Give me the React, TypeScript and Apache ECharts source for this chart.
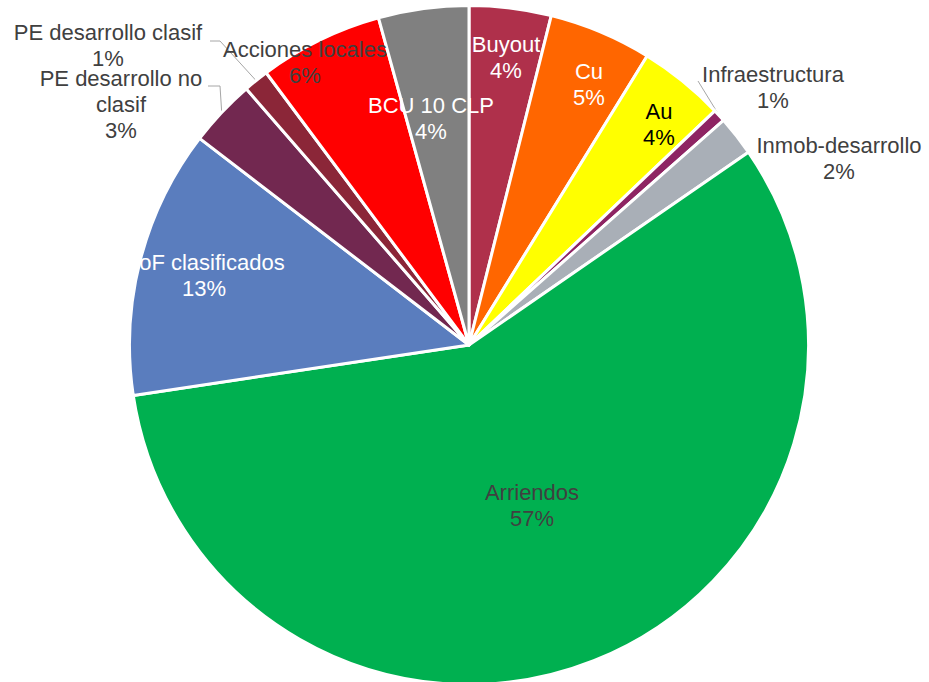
import React, { useEffect, useRef } from "react";
import * as echarts from "echarts";

// ---- data ----
const categories = [
  "Buyout",
  "Cu",
  "Au",
  "Infraestructura",
  "Inmob-desarrollo",
  "Arriendos",
  "DoF clasificados",
  "PE desarrollo no clasif",
  "PE desarrollo clasif",
  "Acciones locales",
  "BCU 10 CLP",
];
const values = [3.9, 4.9, 4.1, 0.6, 1.9, 57.3, 12.8, 3.2, 1.2, 5.9, 4.3];

// ---- styles ----
const sliceColors = [
  "#AF304B",
  "#FF6600",
  "#FFFF00",
  "#8E2463",
  "#A9AFB7",
  "#00B050",
  "#5A7DBE",
  "#722850",
  "#8B2638",
  "#FF0000",
  "#808080",
];
const labelColors = [
  "#FFFFFF",
  "#FFFFFF",
  "#000000",
  "#404040",
  "#404040",
  "#404040",
  "#FFFFFF",
  "#404040",
  "#404040",
  "#404040",
  "#FFFFFF",
];
const outsideLabel = [false, false, false, true, true, false, false, true, true, false, false];
const showLeader = [false, false, false, true, false, false, false, true, true, false, false];
const wrapped: Record<string, string> = {
  "PE desarrollo no clasif": "PE desarrollo no\nclasif",
};

// ---- layout (label centres, leader elbows) ----
const labelPos: [number, number][] = [
  [506, 57],
  [589, 84],
  [659, 124],
  [773, 87],
  [839, 158],
  [532, 505],
  [204, 275],
  [121, 104],
  [108, 45],
  [305, 62],
  [431, 118],
];
const leaderPts: Record<number, [number, number][]> = {
  3: [
    [698, 81],
    [698, 81],
  ],
  7: [
    [220, 86],
    [208, 86],
  ],
  8: [
    [220, 41],
    [210, 41],
  ],
};

export default function App() {
  const ref = useRef<HTMLDivElement>(null);

  useEffect(() => {
    if (!ref.current) return;
    const chart = echarts.init(ref.current, undefined, { renderer: "svg" });

    const data = categories.map((name, i) => ({
      name,
      value: values[i],
      itemStyle: { color: sliceColors[i] },
      label: {
        position: outsideLabel[i] ? "outside" : "inside",
        color: labelColors[i],
      },
      labelLine: {
        show: showLeader[i],
        lineStyle: { color: "#A6A6A6", width: 1 },
      },
    }));

    chart.setOption({
      animation: false,
      backgroundColor: "#FFFFFF",
      series: [
        {
          type: "pie",
          silent: true,
          center: [469, 345],
          radius: 339.5,
          startAngle: 90,
          clockwise: true,
          avoidLabelOverlap: false,
          itemStyle: { borderColor: "#FFFFFF", borderWidth: 3 },
          label: {
            show: true,
            fontSize: 22,
            lineHeight: 26,
            fontFamily: "'Liberation Sans', Arial, sans-serif",
            align: "center",
            textBorderWidth: 0,
            textShadowBlur: 0,
            alignTo: "none",
            formatter: (p: any) =>
              `${wrapped[p.name] ?? p.name}\n${Math.round(p.percent)}%`,
          },
          labelLine: { length: 10, length2: 10 },
          labelLayout: (p: any) => {
            const i = p.dataIndex;
            const [x, y] = labelPos[i];
            const res: any = { x, y, align: "center", verticalAlign: "middle" };
            if (leaderPts[i] && p.labelLinePoints) {
              res.labelLinePoints = [p.labelLinePoints[0], ...leaderPts[i]];
            }
            return res;
          },
          data,
        },
      ],
    });

    return () => chart.dispose();
  }, []);

  return (
    <div
      ref={ref}
      style={{ position: "fixed", left: 0, top: 0, width: 929, height: 682, background: "#fff" }}
    />
  );
}
